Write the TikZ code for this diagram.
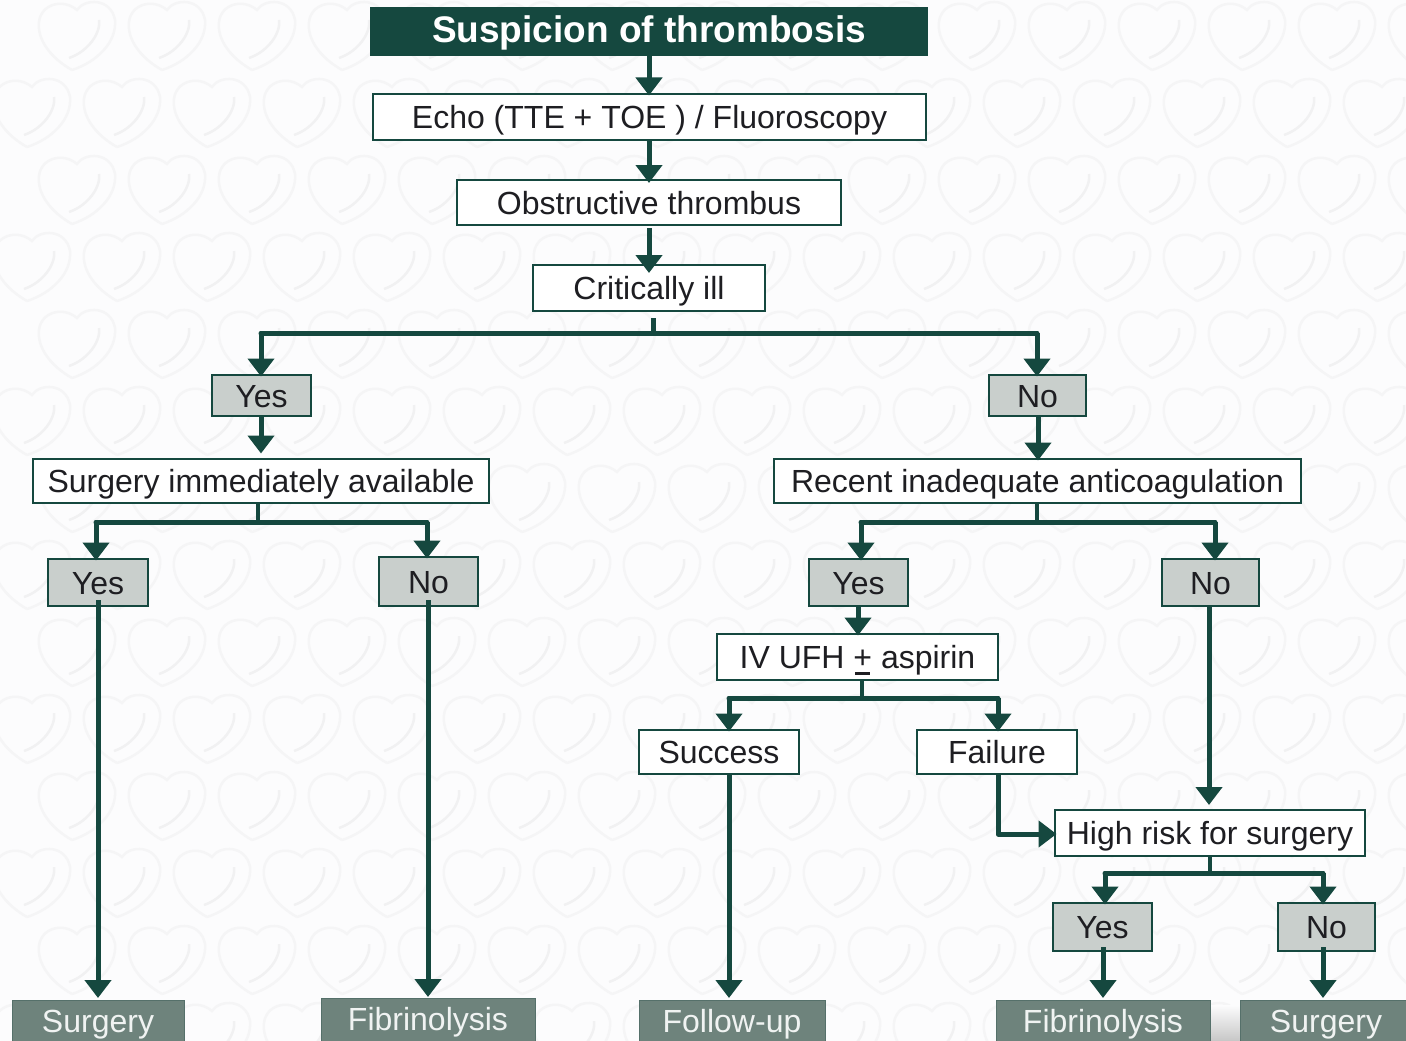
\documentclass[tikz,border=0pt]{standalone}
\usepackage{fontspec}
\setmainfont{Liberation Sans}
\usetikzlibrary{arrows.meta}
\definecolor{dkgreen}{HTML}{15483F}
\definecolor{greybox}{HTML}{C9CFCC}
\definecolor{darkbox}{HTML}{6E837C}
\definecolor{endedge}{HTML}{55706A}
\definecolor{bgc}{HTML}{FCFCFD}
\definecolor{swirl}{HTML}{F5F5F6}
\definecolor{swirlb}{HTML}{F1F1F2}
\definecolor{ink}{HTML}{1E1E22}
\tikzset{
  x=1pt,y=-1pt,
  base/.style={draw=dkgreen,line width=1.5pt,inner sep=0pt,outer sep=0pt,font=\fontsize{32}{32}\selectfont,text=ink,anchor=north west,text height=23pt,text depth=0pt},
  whitebox/.style={base,fill=white},
  yesbox/.style={base,fill=greybox},
  endbox/.style={base,draw=endedge,line width=1pt,fill=darkbox,text=white!90!darkbox,text height=32pt,text depth=28pt},
  titlebox/.style={base,fill=dkgreen,text=white,font=\fontsize{37}{37}\selectfont\bfseries,text height=35pt,text depth=12pt},
  wire/.style={draw=dkgreen,line width=5pt},
  stem/.style={draw=dkgreen,line width=4pt},
  arr/.style={draw=dkgreen,line width=5pt,-{Triangle[width=26pt,length=18pt]},shorten >=-1.5pt},
}
\newcommand{\bx}[7]{\node[#1,minimum width=#5-#4,minimum height=#7-#6] (#2) at (#4,#6) {#3};}
\newcommand{\plusbar}{\makebox[0pt][l]{\hspace{2pt}\rule[-6.5pt]{15pt}{3pt}}+}
\begin{document}
\begin{tikzpicture}
\useasboundingbox (0,0) rectangle (1406,1041);
\fill[bgc] (0,0) rectangle (1406,1041);
\begin{scope}
\clip (0,0) rectangle (1406,1041);
\foreach \j in {0,...,13}{
 \pgfmathsetmacro{\off}{mod(\j,2)*45}
 \foreach \i in {0,...,16}{
  \begin{scope}[shift={(\i*90+37-\off,\j*77-2)}]
   \draw[swirl,line width=2.5pt] (35,72) .. controls (14,60) and (0,42) .. (2,24) .. controls (4,6) and (26,0) .. (40,12) .. controls (48,0) and (74,0) .. (78,22) .. controls (80,44) and (60,64) .. (35,72);
   \draw[swirlb,line width=2.5pt] (62,22) .. controls (64,36) and (50,54) .. (32,60);
  \end{scope}
 }}
\end{scope}
\shade[top color=bgc,bottom color=black!22] (1205,1005) rectangle (1245,1041);
\bx{titlebox}{title}{Suspicion of thrombosis}{371}{927}{8}{55}
\bx{whitebox}{echo}{Echo (TTE + TOE ) / Fluoroscopy}{373}{926}{94}{140}
\bx{whitebox}{obs}{Obstructive thrombus}{457}{841}{180}{225}
\bx{whitebox}{crit}{Critically ill}{533}{765}{265}{311}
\bx{yesbox}{yesa}{Yes}{212}{311}{375}{416}
\bx{yesbox}{noa}{No}{989}{1086}{375}{416}
\bx{whitebox}{surgq}{Surgery immediately available}{33}{489}{459}{503}
\bx{whitebox}{recent}{Recent inadequate anticoagulation}{774}{1301}{459}{503}
\bx{yesbox}{yesb}{Yes}{48}{148}{559}{606}
\bx{yesbox}{nob}{No}{379}{478}{557}{606}
\bx{yesbox}{yesc}{Yes}{809}{908}{559}{606}
\bx{yesbox}{noc}{No}{1162}{1259}{559}{606}
\bx{whitebox}{ufh}{IV UFH \plusbar{} aspirin}{717}{998}{634}{680}
\bx{whitebox}{succ}{Success}{639}{799}{730}{774}
\bx{whitebox}{fail}{Failure}{917}{1077}{730}{774}
\bx{whitebox}{risk}{High risk for surgery}{1055}{1365}{810}{856}
\bx{yesbox}{yesd}{Yes}{1053}{1152}{903}{951}
\bx{yesbox}{nod}{No}{1278}{1375}{903}{951}
\bx{endbox}{esurga}{Surgery}{12}{184}{1000}{1060}
\bx{endbox}{efiba}{Fibrinolysis}{321}{535}{998}{1058}
\bx{endbox}{efollow}{Follow-up}{639}{825}{1000}{1060}
\bx{endbox}{efibb}{Fibrinolysis}{996}{1210}{1000}{1060}
\bx{endbox}{esurgb}{Surgery}{1240}{1412}{1000}{1060}
% straight arrows
\coordinate (v1) at (649,0);
\draw[arr] (title.south -| v1) -- (echo.north -| v1);
\draw[arr,shorten >=-3pt] (echo.south -| v1) -- (obs.north -| v1);
\draw[arr,shorten <=3pt,shorten >=-8pt] (obs.south -| v1) -- (crit.north -| v1);
% critically ill bus
\coordinate (b1) at (653,333);
\coordinate (b1l) at (261,333);
\coordinate (b1r) at (1037,333);
\draw[stem,line width=5pt,shorten <=7pt] (crit.south -| b1) -- (b1);
\draw[wire,line cap=round] (b1l) -- (b1r);
\draw[arr] (b1l) -- (yesa.north -| b1l);
\draw[arr] (b1r) -- (noa.north -| b1r);
\draw[arr] (yesa.south -| b1l) -- ++(0,36);
\coordinate (v2) at (1038,0);
\draw[arr] (noa.south -| v2) -- (recent.north -| v2);
% surgery immediately available bus
\coordinate (b2) at (258,522);
\coordinate (b2l) at (96,522);
\coordinate (b2r) at (427,522);
\draw[stem,shorten >=-3pt] (surgq.south -| b2) -- (b2);
\draw[wire,line cap=round] (b2l) -- (b2r);
\draw[arr] (b2l) -- (yesb.north -| b2l);
\draw[arr] (b2r) -- (nob.north -| b2r);
\coordinate (v3) at (98,0);
\coordinate (v4) at (428,0);
\draw[arr,shorten <=-6pt,shorten >=2pt] (yesb.south -| v3) -- (esurga.north -| v3);
\draw[arr,shorten <=-6pt,shorten >=1pt] (nob.south -| v4) -- (efiba.north -| v4);
% recent bus
\coordinate (b3) at (1037,522);
\coordinate (b3l) at (861,522);
\coordinate (b3r) at (1215,522);
\draw[stem,shorten >=-3pt] (recent.south -| b3) -- (b3);
\draw[wire,line cap=round] (b3l) -- (b3r);
\draw[arr] (b3l) -- (yesc.north -| b3l);
\draw[arr] (b3r) -- (noc.north -| b3r);
\coordinate (v5) at (858,0);
\coordinate (v6) at (1209,0);
\draw[arr] (yesc.south -| v5) -- (ufh.north -| v5);
\draw[arr,shorten >=5pt] (noc.south -| v6) -- (risk.north -| v6);
% ufh bus
\coordinate (b4) at (862,698);
\coordinate (b4l) at (729,698);
\coordinate (b4r) at (998,698);
\draw[stem] (ufh.south -| b4) -- (b4);
\draw[wire,line cap=round] (b4l) -- (b4r);
\draw[arr] (b4l) -- (succ.north -| b4l);
\draw[arr] (b4r) -- (fail.north -| b4r);
\draw[arr,shorten >=2pt] (succ.south -| b4l) -- (efollow.north -| b4l);
\coordinate (k) at (998,834);
\draw[arr,line join=round] (fail.south -| k) -- (k) -- (risk.west |- k);
% high risk bus
\coordinate (b5) at (1210,873);
\coordinate (b5l) at (1105,873);
\coordinate (b5r) at (1323,873);
\draw[stem] (risk.south -| b5) -- (b5);
\draw[wire,line cap=round] (b5l) -- (b5r);
\draw[arr] (b5l) -- (yesd.north -| b5l);
\draw[arr] (b5r) -- (nod.north -| b5r);
\coordinate (v7) at (1103,0);
\draw[arr,shorten <=-4pt,shorten >=2pt] (yesd.south -| v7) -- (efibb.north -| v7);
\draw[arr,shorten <=-4pt,shorten >=2pt] (nod.south -| b5r) -- (esurgb.north -| b5r);
\end{tikzpicture}
\end{document}
